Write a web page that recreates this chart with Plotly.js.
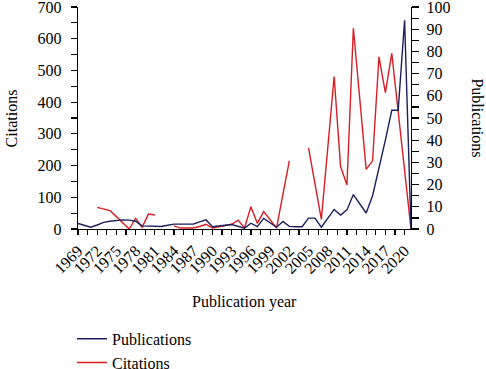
<!DOCTYPE html>
<html>
<head>
<meta charset="utf-8">
<script src="https://cdn.plot.ly/plotly-3.0.1.min.js"></script>
<style>html,body{margin:0;padding:0;background:#fff;}#chart{width:486px;height:369px;}</style>
</head>
<body>
<div id="chart"></div>
<script>
const years = [];
for (let y = 1969; y <= 2021; y++) years.push(y);

const publications = [
  2.5, 1.6, 0.8, 1.8, 3, 3.5, 3.8, 4.1, 4, 3.5,
  1.4, 1.2, 1.1, 1.1, 1.7, 2.2, 2.2, 2.2, 2.2, 3.2,
  4.1, 1, 1.5, 1.7, 2, 1.3, 0.4, 2.6, 1.1, 4.8,
  2.8, 0.8, 3.4, 1.2, 1, 1, 4.9, 4.9, 0.8, 5,
  8.8, 6.3, 8.6, 15.5, 11.2, 7.2, 15, 27, 40, 53.5,
  53.5, 94, 0
];

const citations = [
  null, null, null, 68, 63, 58, 39, 19, 0, 34,
  5, 47, 44, null, null, 10, 3, 3, 3, 8,
  15, 3, 7, 11, 15, 28, 3, 70, 18, 55,
  28, 3, 109, 215, null, null, 256, 149, 30, 255,
  481, 197, 139, 633, 411, 188, 215, 543, 430, 554,
  370, 185, 0
];

const seriesNames = ["Publications", "Citations"];
const FONT = "Liberation Serif, Times New Roman, serif";
const F16 = {family: FONT, size: 16, color: "#000"};

const traces = [
  {x: years, y: publications, name: seriesNames[0], type: "scatter", mode: "lines",
   yaxis: "y2", line: {color: "#1c1f5c", width: 1.4}, connectgaps: false},
  {x: years, y: citations, name: seriesNames[1], type: "scatter", mode: "lines",
   yaxis: "y", line: {color: "#d81e25", width: 1.4}, connectgaps: false}
];

const tickCommon = {ticks: "outside", tickwidth: 1.2, tickcolor: "#000"};

const layout = {
  width: 486, height: 369,
  margin: {l: 78, r: 75, t: 7, b: 140, autoexpand: false},
  paper_bgcolor: "#fff", plot_bgcolor: "#fff",
  font: F16,
  showlegend: true,
  legend: {x: -0.018, xanchor: "left", y: -0.418, yanchor: "top",
           traceorder: "normal", font: F16,
           bgcolor: "rgba(0,0,0,0)"},
  xaxis: Object.assign({range: [1969, 2021], tick0: 1969, dtick: 3, tickangle: -45,
          showgrid: false, zeroline: false, showline: true, linecolor: "#000", linewidth: 1.3,
          ticklen: 5, tickfont: F16, ticklabeloverflow: "allow",
          minor: {dtick: 1.5, tick0: 1969, ticks: "outside", ticklen: 5, tickwidth: 1.2, tickcolor: "#000", showgrid: false}}, tickCommon),
  yaxis: Object.assign({range: [0, 700], dtick: 100, showgrid: false, zeroline: false,
          showline: true, linecolor: "#000", linewidth: 1.3,
          ticklen: 6, ticklabelstandoff: 6, tickfont: F16, ticklabeloverflow: "allow",
          minor: {dtick: 50, ticks: "outside", ticklen: 6, tickwidth: 1.2, tickcolor: "#000", showgrid: false}}, tickCommon),
  yaxis2: Object.assign({range: [0, 100], dtick: 10, overlaying: "y", side: "right", anchor: "x",
          showgrid: false, zeroline: false,
          showline: true, linecolor: "#000", linewidth: 1.3,
          ticklen: 7, ticklabelstandoff: 4, tickfont: F16, ticklabeloverflow: "allow",
          minor: {dtick: 5, ticks: "outside", ticklen: 7, tickwidth: 1.2, tickcolor: "#000", showgrid: false}}, tickCommon),
  annotations: [
    {text: "Citations", xref: "paper", yref: "paper", x: -0.2, y: 0.5, textangle: -90,
     showarrow: false, xanchor: "center", yanchor: "middle", font: F16},
    {text: "Publications", xref: "paper", yref: "paper", x: 1.2, y: 0.5, textangle: 90,
     showarrow: false, xanchor: "center", yanchor: "middle", font: F16},
    {text: "Publication year", xref: "paper", yref: "paper", x: 0.5, y: -0.329,
     showarrow: false, xanchor: "center", yanchor: "middle", font: F16}
  ]
};

Plotly.newPlot("chart", traces, layout, {displayModeBar: false, staticPlot: true});
</script>
</body>
</html>
